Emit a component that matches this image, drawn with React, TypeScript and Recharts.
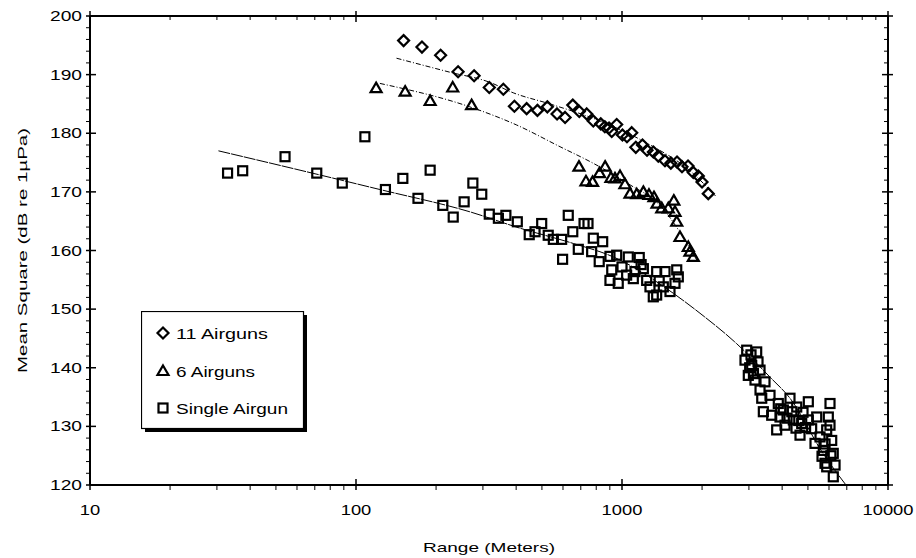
import React from 'react';
import { ScatterChart, Scatter, XAxis, YAxis, Legend } from 'recharts';

if (typeof document !== 'undefined') {
  document.body.style.margin = '0';
}

// ---------- data (range in meters, level in dB re 1µPa) ----------
const ELEVEN_AIRGUNS: [number, number][] = [
  [151, 195.8], [177, 194.7], [208, 193.3], [242, 190.5], [278, 189.8], [317, 187.8],
  [358, 187.5], [394, 184.6], [438, 184.2], [481, 183.9], [524, 184.5], [570, 183.3],
  [611, 182.7], [653, 184.8], [691, 183.7], [737, 183.3], [780, 182.1], [832, 181.6],
  [862, 181.1], [894, 180.9], [915, 180.3], [955, 181.5], [1004, 179.7], [1044, 179.4],
  [1088, 180.1], [1127, 177.6], [1194, 178.0], [1242, 177.1], [1312, 176.8], [1369, 176.1],
  [1451, 175.3], [1526, 174.9], [1610, 175.1], [1681, 174.3], [1771, 174.4], [1854, 173.3],
  [1936, 172.7], [1999, 171.7], [2110, 169.7],
];
const ELEVEN_FIT: [number, number][] = [
  [142, 192.8], [226, 190.4], [318, 188.7], [390, 186.9], [536, 185.0], [826, 182.1],
  [1277, 178.0], [1791, 173.7], [2247, 169.3],
];

const SIX_AIRGUNS: [number, number][] = [
  [119, 187.7], [153, 187.1], [190, 185.5], [231, 187.8], [272, 184.8], [689, 174.3],
  [732, 171.8], [775, 171.7], [823, 173.2], [864, 174.3], [909, 172.4], [941, 172.3],
  [983, 172.7], [1026, 171.3], [1072, 169.7], [1136, 169.6], [1203, 170.0], [1263, 169.5],
  [1319, 169.1], [1354, 168.0], [1411, 167.2], [1493, 167.2], [1566, 168.5], [1582, 166.6],
  [1606, 164.9], [1652, 162.3], [1775, 160.6], [1801, 159.8], [1854, 158.9],
];
const SIX_FIT: [number, number][] = [
  [123, 188.5], [268, 184.5], [402, 181.4], [585, 177.7], [778, 174.9], [1072, 171.2],
  [1390, 167.7], [1696, 162.3], [1931, 158.0],
];

const SINGLE_AIRGUN: [number, number][] = [
  [32.9, 173.2], [37.5, 173.6], [54.1, 176.0], [71.2, 173.2], [88.8, 171.5], [108, 179.4],
  [129, 170.4], [150, 172.3], [171, 168.9], [190, 173.7], [212, 167.7], [232, 165.7],
  [255, 168.3], [275, 171.5], [297, 169.6], [317, 166.2], [343, 165.5], [366, 166.0],
  [404, 164.9], [448, 162.7], [471, 163.2], [499, 164.6], [528, 162.6], [552, 161.9],
  [593, 161.9], [598, 158.5], [628, 166.0], [653, 163.2], [685, 160.2], [720, 164.6],
  [745, 164.6], [769, 159.8], [780, 162.1], [821, 158.1], [846, 161.5], [901, 159.0],
  [901, 154.9], [915, 156.7], [955, 159.2], [968, 154.4], [1041, 155.8], [1056, 158.9],
  [1103, 155.2], [1119, 156.4], [1161, 158.8], [1203, 156.9], [1238, 154.9], [1274, 153.8],
  [1311, 152.1], [1350, 156.4], [1350, 152.4], [1430, 153.8], [1451, 156.4], [1515, 153.0],
  [1582, 154.4], [1606, 156.7], [1628, 155.5], [1380, 154.8], [1180, 157.6], [1000, 157.2],
  [2900, 141.3], [2943, 143.0], [2984, 138.7], [3055, 142.2], [3073, 140.4], [3162, 137.9],
  [3209, 142.7], [3246, 141.0], [3303, 139.6], [3303, 136.2], [3352, 134.8], [3399, 132.5],
  [3448, 137.6], [3601, 135.3], [3654, 131.9], [3815, 129.4], [3869, 133.9], [3926, 131.6],
  [4041, 132.8], [4101, 130.2], [4173, 131.4], [4281, 134.8], [4406, 131.1], [4510, 129.7],
  [4538, 133.3], [4669, 128.5], [4738, 130.5], [4792, 132.4], [5017, 134.2], [5017, 131.1],
  [5164, 129.6], [5316, 127.1], [5395, 131.6], [5552, 128.2], [5649, 124.9], [5713, 125.9],
  [5797, 123.7], [5882, 129.4], [5882, 123.1], [5965, 131.6], [6053, 133.9], [6053, 130.2],
  [6143, 127.6], [6225, 125.4], [6228, 121.4], [6323, 123.4], [3020, 140.0], [3120, 139.0],
  [3950, 133.0], [4350, 132.5], [4620, 131.0], [4900, 129.8], [5800, 127.0], [6100, 125.0],
];
const SINGLE_FIT: [number, number][] = [
  [30.4, 177.0], [61.6, 173.7], [123, 170.4], [268, 166.6], [414, 163.8], [656, 161.2],
  [928, 158.9], [1559, 152.7], [1964, 149.3], [2699, 144.1], [3601, 138.4], [4282, 134.8],
  [5695, 125.4], [6950, 120.0],
];

const X_MAJOR = [10, 100, 1000, 10000];
const X_TICKS = [
  10, 20, 30, 40, 50, 60, 70, 80, 90,
  100, 200, 300, 400, 500, 600, 700, 800, 900,
  1000, 2000, 3000, 4000, 5000, 6000, 7000, 8000, 9000, 10000,
];
const Y_MAJOR = [120, 130, 140, 150, 160, 170, 180, 190, 200];
const Y_TICKS = [
  120, 122, 124, 126, 128, 130, 132, 134, 136, 138, 140, 142, 144, 146, 148, 150, 152, 154,
  156, 158, 160, 162, 164, 166, 168, 170, 172, 174, 176, 178, 180, 182, 184, 186, 188, 190,
  192, 194, 196, 198, 200,
];
const LEGEND_LABELS = ['11 Airguns', '6 Airguns', 'Single Airgun'];
const X_TITLE = 'Range (Meters)';
const Y_TITLE = 'Mean Square (dB re 1µPa)';

// ---------- layout ----------
const W = 916;
const H = 558;
const PLOT_LEFT = 90;
const PLOT_RIGHT = 888;
const PLOT_TOP = 16;
const PLOT_BOTTOM = 485;
const FONT = '"Liberation Sans", Arial, sans-serif';

const toPts = (arr: [number, number][]) => arr.map(([x, y]) => ({ x, y }));

// ---------- shapes ----------
const SquareShape = (p: any) => (
  <rect x={p.cx - 4.5} y={p.cy - 4.5} width={9} height={9} fill="none" stroke="#000" strokeWidth={2.2} />
);
const DiamondShape = (p: any) => (
  <polygon
    points={`${p.cx},${p.cy - 5.5} ${p.cx + 5.5},${p.cy} ${p.cx},${p.cy + 5.5} ${p.cx - 5.5},${p.cy}`}
    fill="none" stroke="#000" strokeWidth={2.2}
  />
);
const TriangleShape = (p: any) => (
  <polygon
    points={`${p.cx},${p.cy - 5.5} ${p.cx + 5.5},${p.cy + 4} ${p.cx - 5.5},${p.cy + 4}`}
    fill="none" stroke="#000" strokeWidth={2.2} strokeLinejoin="miter"
  />
);
const NoShape = () => <g />;

// ---------- ticks ----------
const BottomTick = (p: any) => {
  const v = p.payload.value;
  const major = X_MAJOR.includes(v);
  const label = String(v);
  return (
    <g>
      <line x1={p.x} x2={p.x} y1={major ? p.y - 6 : p.y} y2={p.y + 5} stroke="#000" strokeWidth={major ? 1.5 : 1} />
      {major && (
        <text x={p.x} y={p.y + 30} textAnchor="middle" fontSize={14} fontFamily={FONT} fill="#000"
          textLength={label.length * 10.2} lengthAdjust="spacingAndGlyphs">
          {label}
        </text>
      )}
    </g>
  );
};
const TopTick = (p: any) => {
  const v = p.payload.value;
  const major = X_MAJOR.includes(v);
  return <line x1={p.x} x2={p.x} y1={major ? p.y - 5 : p.y} y2={major ? p.y + 6 : p.y + 4} stroke="#000" strokeWidth={major ? 1.5 : 1} />;
};
const LeftTick = (p: any) => {
  const v = p.payload.value;
  const major = Y_MAJOR.includes(v);
  const label = String(v);
  return (
    <g>
      <line x1={p.x - 4} x2={major ? p.x + 6 : p.x} y1={p.y} y2={p.y} stroke="#000" strokeWidth={major ? 1.5 : 1} />
      {major && (
        <text x={p.x - 8} y={p.y + 5} textAnchor="end" fontSize={14} fontFamily={FONT} fill="#000"
          textLength={32} lengthAdjust="spacingAndGlyphs">
          {label}
        </text>
      )}
    </g>
  );
};
const RightTick = (p: any) => {
  const v = p.payload.value;
  const major = Y_MAJOR.includes(v);
  return <line x1={p.x - (major ? 6 : 4)} x2={major ? p.x + 5 : p.x} y1={p.y} y2={p.y} stroke="#000" strokeWidth={major ? 1.5 : 1} />;
};

// ---------- titles ----------
const XTitle = () => (
  <text x={(PLOT_LEFT + PLOT_RIGHT) / 2} y={552} textAnchor="middle" fontSize={13} fontFamily={FONT} fill="#000"
    textLength={132} lengthAdjust="spacingAndGlyphs">
    {X_TITLE}
  </text>
);
const YTitle = () => {
  const cx = 22;
  const cy = (PLOT_TOP + PLOT_BOTTOM) / 2;
  return (
    <text x={cx} y={cy} transform={`rotate(-90, ${cx}, ${cy})`} textAnchor="middle" dominantBaseline="central"
      fontSize={13} fontFamily={FONT} fill="#000" textLength={245} lengthAdjust="spacingAndGlyphs">
      {Y_TITLE}
    </text>
  );
};

// ---------- legend ----------
const LegendBox = () => {
  const shapes = [DiamondShape, TriangleShape, SquareShape];
  const widths = [92, 79, 112];
  const rows = [22, 60, 97];
  return (
    <svg width={168} height={123} style={{ display: 'block' }}>
      <rect x={4} y={4} width={162} height={117} fill="#000" />
      <rect x={0.5} y={0.5} width={162} height={117} fill="#fff" stroke="#000" strokeWidth={1.2} />
      {LEGEND_LABELS.map((lab, i) => {
        const S = shapes[i];
        return (
          <g key={lab}>
            <S cx={22} cy={rows[i]} />
            <text x={35} y={rows[i] + 5.5} fontSize={15} fontFamily={FONT} fill="#000"
              textLength={widths[i]} lengthAdjust="spacingAndGlyphs">
              {lab}
            </text>
          </g>
        );
      })}
    </svg>
  );
};

export default function App() {
  return (
    <div style={{ width: W, height: H, background: '#fff' }}>
      <ScatterChart
        width={W}
        height={H}
        margin={{ top: PLOT_TOP - 1, right: W - PLOT_RIGHT - 1, bottom: H - PLOT_BOTTOM - 40, left: PLOT_LEFT - 60 }}
        style={{ background: '#fff' }}
      >
        <XAxis
          xAxisId="x" type="number" dataKey="x" scale="log" domain={[10, 10000]} allowDataOverflow
          ticks={X_TICKS} interval={0} height={40} tickSize={0} tickMargin={0} tickLine={false}
          tick={<BottomTick />} axisLine={{ stroke: '#000', strokeWidth: 2 }}
          label={{ content: () => <XTitle /> }}
        />
        <XAxis
          xAxisId="xt" orientation="top" type="number" dataKey="x" scale="log" domain={[10, 10000]} allowDataOverflow
          ticks={X_TICKS} interval={0} height={1} tickSize={0} tickMargin={0} tickLine={false}
          tick={<TopTick />} axisLine={{ stroke: '#000', strokeWidth: 2 }}
        />
        <YAxis
          yAxisId="y" type="number" dataKey="y" domain={[120, 200]} allowDataOverflow
          ticks={Y_TICKS} interval={0} width={60} tickSize={0} tickMargin={0} tickLine={false}
          tick={<LeftTick />} axisLine={{ stroke: '#000', strokeWidth: 2 }}
          label={{ content: () => <YTitle /> }}
        />
        <YAxis
          yAxisId="yr" orientation="right" type="number" dataKey="y" domain={[120, 200]} allowDataOverflow
          ticks={Y_TICKS} interval={0} width={1} tickSize={0} tickMargin={0} tickLine={false}
          tick={<RightTick />} axisLine={{ stroke: '#000', strokeWidth: 2 }}
        />

        <Scatter name="11 fit" data={toPts(ELEVEN_FIT)} xAxisId="xt" yAxisId="yr" shape={NoShape}
          line={{ stroke: '#000', strokeWidth: 1, strokeDasharray: '5 2 1 2' }} lineJointType="monotoneX"
          isAnimationActive={false} legendType="none" />
        <Scatter name="6 fit" data={toPts(SIX_FIT)} xAxisId="x" yAxisId="y" shape={NoShape}
          line={{ stroke: '#000', strokeWidth: 1, strokeDasharray: '5 2 1 2' }} lineJointType="monotoneX"
          isAnimationActive={false} legendType="none" />
        <Scatter name="single fit" data={toPts(SINGLE_FIT)} xAxisId="xt" yAxisId="yr" shape={NoShape}
          line={{ stroke: '#000', strokeWidth: 1, strokeDasharray: '12 1' }} lineJointType="monotoneX"
          isAnimationActive={false} legendType="none" />

        <Scatter name="11 Airguns" data={toPts(ELEVEN_AIRGUNS)} xAxisId="x" yAxisId="y" shape={DiamondShape} isAnimationActive={false} />
        <Scatter name="6 Airguns" data={toPts(SIX_AIRGUNS)} xAxisId="x" yAxisId="y" shape={TriangleShape} isAnimationActive={false} />
        <Scatter name="Single Airgun" data={toPts(SINGLE_AIRGUN)} xAxisId="x" yAxisId="y" shape={SquareShape} isAnimationActive={false} />

        <Legend
          layout="vertical" align="center" verticalAlign="middle"
          content={() => <LegendBox />}
          wrapperStyle={{ left: 141, top: 311, width: 168, height: 123 }}
        />
      </ScatterChart>
    </div>
  );
}
